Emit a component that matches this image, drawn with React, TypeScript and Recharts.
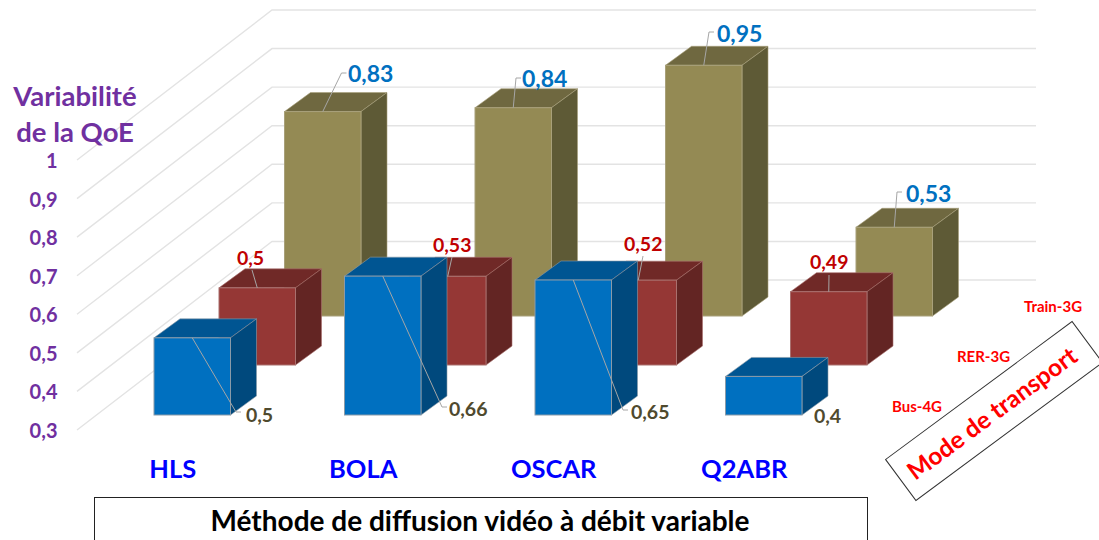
import React from "react";
import { BarChart, Bar, XAxis, YAxis, CartesianGrid, LabelList, Customized } from "recharts";

const categories = ["HLS", "BOLA", "OSCAR", "Q2ABR"];
const busValues = [0.5, 0.66, 0.65, 0.4];
const rerValues = [0.5, 0.53, 0.52, 0.49];
const trainValues = [0.83, 0.84, 0.95, 0.53];
const yTicks = [0.3, 0.4, 0.5, 0.6, 0.7, 0.8, 0.9, 1];
const depthLabels = ["Bus-4G", "RER-3G", "Train-3G"];

const rows = categories.map((name, i) => ({
  name,
  bus: busValues[i],
  rer: rerValues[i],
  train: trainValues[i],
}));

const FONT = "Lato, 'Open Sans', sans-serif";
const BAR_W = 76.5;
const DEPTH_X = 26;
const DEPTH_Y = 19;

const palette = {
  bus: { front: "#0070C0", top: "#005592", side: "#00497D", edge: "#8a9aa8" },
  rer: { front: "#953735", top: "#702927", side: "#632523", edge: "#a9706e" },
  train: { front: "#948A54", top: "#6F6840", side: "#5E5A36", edge: "#a8a07a" },
};

// leader-line and label layout: [elbowX, elbowY, textX, textY]
const busLayout = [
  [236, 412, 246, 414],
  [442, 407, 449, 408],
  [623, 410, 631, 411],
  [null, null, 814, 415],
];
const rerLayout = [
  [252, 270, 237, 257],
  [452, 257, 433, 244],
  [643, 256, 624, 243],
  [829, 275, 810, 261],
];
const trainLayout = [
  [341.5, 73, 348, 73],
  [516, 78, 522, 78],
  [709, 32, 717, 33],
  [897, 192, 906, 193],
];

const Box = ({ x, y, width, height, c, dx, dy }: any) => {
  const l = x + dx;
  const t = y + dy;
  const r = l + width;
  const b = t + height;
  return (
    <g>
      <polygon
        points={`${l},${t} ${l + DEPTH_X},${t - DEPTH_Y} ${r + DEPTH_X},${t - DEPTH_Y} ${r},${t}`}
        fill={c.top}
        stroke={c.edge}
        strokeWidth={0.6}
      />
      <polygon
        points={`${r},${t} ${r + DEPTH_X},${t - DEPTH_Y} ${r + DEPTH_X},${b - DEPTH_Y} ${r},${b}`}
        fill={c.side}
        stroke={c.edge}
        strokeWidth={0.6}
      />
      <rect x={l} y={t} width={width} height={height} fill={c.front} stroke={c.edge} strokeWidth={1} />
    </g>
  );
};

const makeLabel = (layout: any[], dx: number, dy: number, color: string, size: number) => (p: any) => {
  const { x, y, width, index, value } = p;
  const [ex, ey, tx, ty] = layout[index];
  const cx = x + dx + width / 2;
  const top = y + dy;
  return (
    <g>
      {ex !== null && (
        <polyline
          points={`${cx},${top} ${ex},${ey} ${dy === -50 ? ex : ex + 5},${ey}`}
          fill="none"
          stroke="#a6a6a6"
          strokeWidth={1}
        />
      )}
      <text
        x={tx}
        y={ty}
        fill={color}
        fontFamily={FONT}
        fontWeight={700}
        fontSize={size}
        dominantBaseline="central"
      >
        {String(value).replace(".", ",")}
      </text>
    </g>
  );
};

const GridLine = (p: any) => {
  const y = p.y1;
  return (
    <polyline
      key={p.key ?? y}
      points={`77,${y + 15} 272,${y - 135} 1036,${y - 135}`}
      fill="none"
      stroke="#e3e3e3"
      strokeWidth={1.4}
    />
  );
};

const YTick = ({ y, payload }: any) => (
  <text
    x={57.5}
    y={y + 15}
    textAnchor="end"
    dominantBaseline="central"
    fill="#7030A0"
    fontFamily={FONT}
    fontWeight={700}
    fontSize={20}
  >
    {String(payload.value).replace(".", ",")}
  </text>
);

const XTick = ({ x, payload }: any) => (
  <text
    x={x - 19.5}
    y={468}
    textAnchor="middle"
    dominantBaseline="central"
    fill="#0000FF"
    fontFamily={FONT}
    fontWeight={700}
    fontSize={25.5}
  >
    {payload.value}
  </text>
);

const Annotations = () => (
  <g fontFamily={FONT} fontWeight={700}>
    <text x={75} y={95} textAnchor="middle" dominantBaseline="central" fill="#7030A0" fontSize={27.5}>
      Variabilité
    </text>
    <text x={75} y={131} textAnchor="middle" dominantBaseline="central" fill="#7030A0" fontSize={27.5}>
      de la QoE
    </text>
    {depthLabels.map((t, i) => (
      <text
        key={t}
        x={[917, 983.5, 1053][i]}
        y={[406, 356, 306][i]}
        textAnchor="middle"
        dominantBaseline="central"
        fill="#FF0000"
        fontSize={15}
      >
        {t}
      </text>
    ))}
    <g transform="translate(994 411) rotate(-36.5)">
      <rect x={-116} y={-25.5} width={232} height={51} fill="#fff" stroke="#333" strokeWidth={1} />
      <text x={-3} textAnchor="middle" dominantBaseline="central" fill="#FF0000" fontSize={24.5}>
        Mode de transport
      </text>
    </g>
    <rect x={94.5} y={497.5} width={773} height={60} fill="#fff" stroke="#222" strokeWidth={1} />
    <text x={480} y={520} textAnchor="middle" dominantBaseline="central" fill="#000" fontSize={28}>
      Méthode de diffusion vidéo à débit variable
    </text>
  </g>
);

export default function App() {
  return (
    <div style={{ position: "absolute", left: 0, top: 0, width: 1099, height: 540, overflow: "hidden", background: "#fff" }}>
      <BarChart
        width={1099}
        height={540}
        data={rows}
        margin={{ top: 145, right: 240, bottom: 124, left: 96 }}
        barSize={BAR_W}
        barGap={-BAR_W}
      >
        <CartesianGrid vertical={false} horizontal={GridLine as any} />
        <XAxis dataKey="name" height={1} axisLine={false} tickLine={false} interval={0} tick={<XTick />} />
        <YAxis
          domain={[0.3, 1]}
          ticks={yTicks}
          width={1}
          axisLine={false}
          tickLine={false}
          interval={0}
          tick={<YTick />}
        />
        <Bar
          dataKey="train"
          isAnimationActive={false}
          shape={(p: any) => <Box {...p} c={palette.train} dx={130.5} dy={-99} />}
        >
          <LabelList dataKey="train" content={makeLabel(trainLayout, 130.5, -99, "#0070C0", 23) as any} />
        </Bar>
        <Bar
          dataKey="rer"
          isAnimationActive={false}
          shape={(p: any) => <Box {...p} c={palette.rer} dx={65} dy={-50} />}
        >
          <LabelList dataKey="rer" content={makeLabel(rerLayout, 65, -50, "#C00000", 19.5) as any} />
        </Bar>
        <Bar
          dataKey="bus"
          isAnimationActive={false}
          shape={(p: any) => <Box {...p} c={palette.bus} dx={0} dy={0} />}
        >
          <LabelList dataKey="bus" content={makeLabel(busLayout, 0, 0, "#4F4A2E", 19.5) as any} />
        </Bar>
        <Customized component={Annotations} />
      </BarChart>
    </div>
  );
}
